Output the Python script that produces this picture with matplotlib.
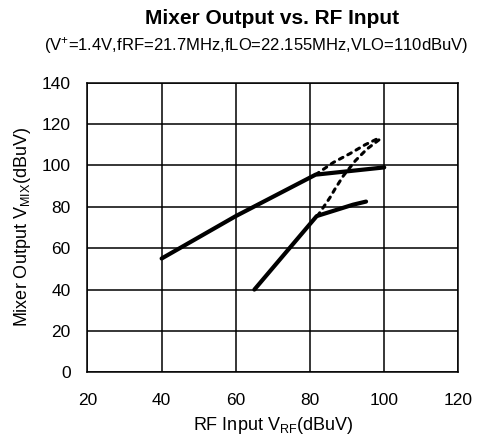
import numpy as np
import matplotlib
matplotlib.use("Agg")
import matplotlib.pyplot as plt

plt.rcParams['font.family'] = ['Liberation Sans', 'DejaVu Sans']
plt.rcParams['mathtext.fontset'] = 'custom'
plt.rcParams['mathtext.rm'] = 'Liberation Sans'
plt.rcParams['mathtext.it'] = 'Liberation Sans'

# upper solid curve
up_x = [40, 60, 81.5, 100]
up_y = [55, 75.5, 95.5, 99]
# lower solid curve
lo_x = [65, 81.8, 91.6, 95.1]
lo_y = [40, 75.5, 81, 82.5]
# upper dotted curve
ud_x = [81.5, 86.3, 90.8, 94.8, 97.9, 99.3]
ud_y = [95.5, 101.4, 105.7, 109.9, 112.6, 113]
# lower dotted curve
ld_x = [82, 85.4, 86.7, 89, 92.2, 95.3, 98.8, 99.3]
ld_y = [75.5, 84.5, 88.5, 95, 102.2, 107.8, 112.6, 113]

xticks = [20, 40, 60, 80, 100, 120]
yticks = [0, 20, 40, 60, 80, 100, 120, 140]

fig = plt.figure(figsize=(4.94, 4.46), dpi=100)
ax = fig.add_axes([0.177, 0.165, 0.751, 0.650])

ax.plot(up_x, up_y, color='black', lw=3, solid_capstyle='round', zorder=3)
ax.plot(lo_x, lo_y, color='black', lw=3, solid_capstyle='round', zorder=3)
ax.plot(ud_x, ud_y, color='black', lw=2.2, ls=(0, (1.3, 1.8)), dash_capstyle='round', zorder=3)
ax.plot(ld_x, ld_y, color='black', lw=2.2, ls=(0, (1.3, 1.8)), dash_capstyle='round', zorder=3)

ax.set_xlim(20, 120)
ax.set_ylim(0, 140)
ax.set_xticks(xticks)
ax.set_yticks(yticks)
ax.grid(True, color='black', lw=1.1)
ax.tick_params(length=0, labelsize=12.5)
ax.tick_params(axis='x', pad=15)
ax.tick_params(axis='y', pad=12)
for s in ax.spines.values():
    s.set_linewidth(1.1)

ax.set_xlabel(r'RF Input V$_{\mathrm{RF}}$(dBuV)', fontsize=13, labelpad=5)
ax.set_ylabel(r'Mixer Output V$_{\mathrm{MIX}}$(dBuV)', fontsize=13, labelpad=6)

fig.text(0.551, 0.958, 'Mixer Output vs. RF Input', ha='center', va='center',
         fontsize=15, fontweight='bold')
fig.text(0.518, 0.897, r'(V$^{+}$=1.4V,fRF=21.7MHz,fLO=22.155MHz,VLO=110dBuV)',
         ha='center', va='center', fontsize=12)

fig.savefig('out.png', dpi=100)
